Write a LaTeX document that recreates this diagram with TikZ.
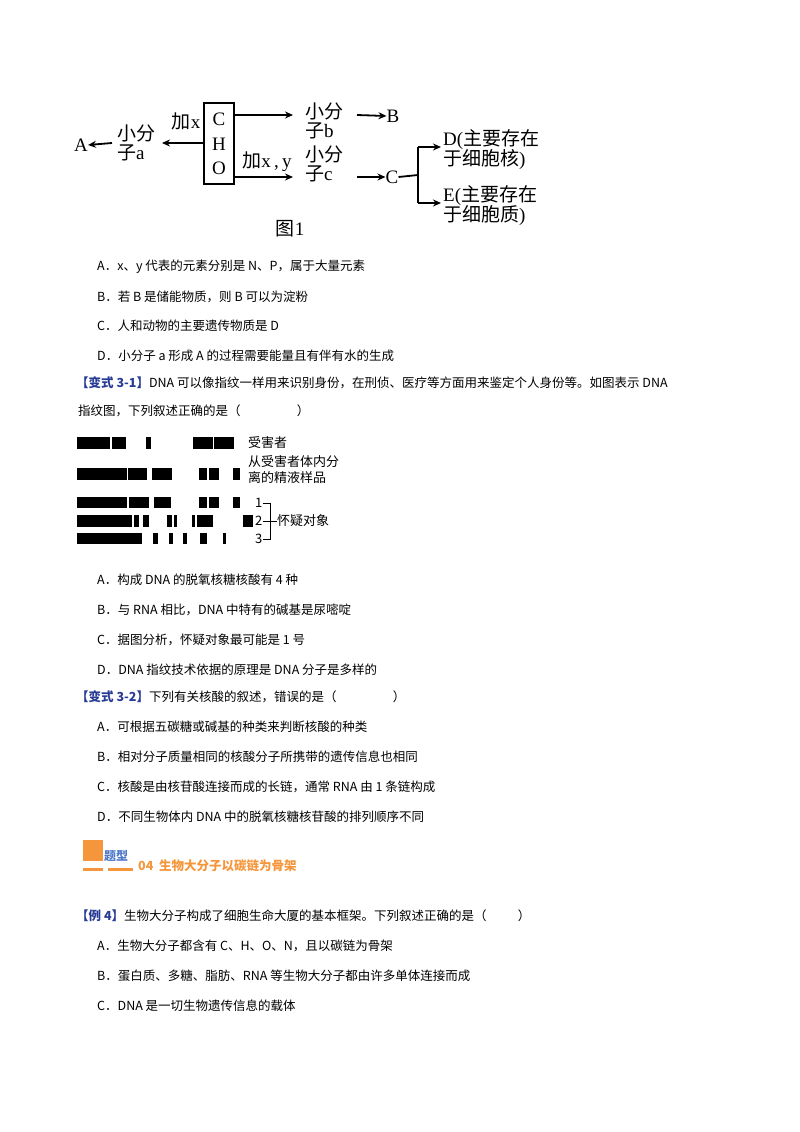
\documentclass[tikz,border=0pt]{standalone}
\usepackage{fontspec}
\setmainfont{Liberation Serif}
\newfontfamily\cjk{Noto Sans CJK SC}
\usetikzlibrary{arrows.meta}
\definecolor{qblue}{RGB}{40,60,150}
\definecolor{qorange}{RGB}{245,150,60}
\definecolor{qlblue}{RGB}{80,120,200}
\begin{document}
\begin{tikzpicture}[x=1pt,y=-1pt,
  dg/.style={inner sep=0pt,font=\fontsize{19}{21}\selectfont,align=left},
  arr/.style={-{Stealth[length=8pt,width=7pt]},line width=1.8pt},
  txt/.style={anchor=west,inner sep=0pt,font=\cjk\fontsize{12.5}{14}\selectfont},
  lab/.style={anchor=west,inner sep=0pt,font=\cjk\fontsize{13}{14}\selectfont,align=left},
  bar/.style={fill=black,draw=none}]
\useasboundingbox (0,0) rectangle (800,1132);
% ---- figure 1
\node[draw,line width=1.5pt,minimum width=30pt,minimum height=81pt,inner sep=0pt] (box) at (219,143.5) {};
\node[dg] (cC) at (219,119) {C};
\node[dg] (cH) at (219,144) {H};
\node[dg] (cO) at (219,168) {O};
\node[dg,anchor=west] (sb) at (305,121) {{\cjk 小分}\\[-2pt]{\cjk 子}b};
\node[dg,anchor=west] (sc) at (305,164) {{\cjk 小分}\\[-2pt]{\cjk 子}c};
\node[dg,anchor=west] (sa) at (117,143) {{\cjk 小分}\\[-2pt]{\cjk 子}a};
\node[dg] (B) at (393,116) {B};
\node[dg] (C) at (392,177) {C};
\node[dg] (A) at (81,145) {A};
\node[dg,anchor=west] (D) at (443,150) {D({\cjk 主要存在}\\[-1pt]{\cjk 于细胞核})};
\node[dg,anchor=west] (E) at (443,206) {E({\cjk 主要存在}\\[-1pt]{\cjk 于细胞质})};
\node[dg] (fig) at (290,229) {{\cjk 图}1};
\node[dg,anchor=south] (jx) at (186,130) {{\cjk 加}x};
\node[dg,anchor=south] (jxy) at (267,172) {{\cjk 加}x\,,\,y};
\coordinate (bt) at (234,115); \coordinate (bb) at (234,177); \coordinate (bl) at (204,143);
\coordinate (br) at (418,147); \coordinate (brl) at (418,203); \coordinate (bm) at (418,175);
\draw[arr] (bt) -- (293,115);
\draw[arr] (bb) -- (293,177);
\draw[arr] (bl) -- (162,143);
\draw[arr] (112,143) -- (A.east);
\draw[arr] (357,115) -- (B.west);
\draw[arr] (357,177) -- (C.west);
\draw[line width=1.8pt] (C.east) -- (bm);
\draw[line width=1.8pt] (br) -- (brl);
\draw[arr] (br) -- (441,147);
\draw[arr] (brl) -- (441,203);
% ---- options
\node[txt] (o1) at (97,267) {A．x、y 代表的元素分别是 N、P，属于大量元素};
\node[txt] (o2) at (97,297) {B．若 B 是储能物质，则 B 可以为淀粉};
\node[txt] (o3) at (97,326) {C．人和动物的主要遗传物质是 D};
\node[txt] (o4) at (97,356) {D．小分子 a 形成 A 的过程需要能量且有伴有水的生成};
\node[txt] (q31) at (76,383) {{\color{qblue}\bfseries【变式 3-1】}DNA 可以像指纹一样用来识别身份，在刑侦、医疗等方面用来鉴定个人身份等。如图表示 DNA};
\node[txt] (q31b) at (78,411) {指纹图，下列叙述正确的是（\hspace{4.5em}）};
% ---- DNA fingerprint
\foreach \a/\b in {77/110,112/126,146/151,193/213,214/234} \fill[bar] (\a,437) rectangle (\b,449);
\foreach \a/\b in {77/127,128/147,152/172,199/207,209/219,233/240} \fill[bar] (\a,468) rectangle (\b,480);
\foreach \a/\b in {77/127,129/149,154/171,199/207,209/219,233/240} \fill[bar] (\a,497) rectangle (\b,508);
\foreach \a/\b in {77/132,134/139,143/149,167/172,174/177,192/195,197/213,243/253} \fill[bar] (\a,515) rectangle (\b,527);
\foreach \a/\b in {77/142,153/158,169/173,183/187,200/207,223/226} \fill[bar] (\a,533) rectangle (\b,544);
\node[lab] (l1) at (248,443) {受害者};
\node[lab,font=\cjk\fontsize{13}{16}\selectfont] (l2) at (248,470) {从受害者体内分\\离的精液样品};
\node[lab] (n1) at (255,503) {1};
\node[lab] (n2) at (255,521) {2};
\node[lab] (n3) at (255,539) {3};
\node[lab] (l3) at (277,521) {怀疑对象};
\draw[line width=0.9pt] (n1.east) -- (270,503) -- (270,539) -- (n3.east);
\draw[line width=0.9pt] (n2.east) -- (l3.west);
% ---- options
\node[txt] (p1) at (97,580) {A．构成 DNA 的脱氧核糖核酸有 4 种};
\node[txt] (p2) at (97,610) {B．与 RNA 相比，DNA 中特有的碱基是尿嘧啶};
\node[txt] (p3) at (97,640) {C．据图分析，怀疑对象最可能是 1 号};
\node[txt] (p4) at (97,670) {D．DNA 指纹技术依据的原理是 DNA 分子是多样的};
\node[txt] (q32) at (76,697) {{\color{qblue}\bfseries【变式 3-2】}下列有关核酸的叙述，错误的是（\hspace{4.5em}）};
\node[txt] (r1) at (97,727) {A．可根据五碳糖或碱基的种类来判断核酸的种类};
\node[txt] (r2) at (97,757) {B．相对分子质量相同的核酸分子所携带的遗传信息也相同};
\node[txt] (r3) at (97,787) {C．核酸是由核苷酸连接而成的长链，通常 RNA 由 1 条链构成};
\node[txt] (r4) at (97,817) {D．不同生物体内 DNA 中的脱氧核糖核苷酸的排列顺序不同};
% ---- heading
\fill[qorange] (83,840) rectangle (103,861);
\fill[qorange] (83,868) rectangle (103,871);
\fill[qorange] (108,868) rectangle (133,871);
\node[txt,text=qlblue,font=\cjk\bfseries\fontsize{12}{13}\selectfont] (tx) at (104,856) {题型};
\node[txt,text=qorange,font=\cjk\bfseries\fontsize{12.5}{14}\selectfont] (hd) at (138,866) {04\ \ 生物大分子以碳链为骨架};
\node[txt] (q4) at (76,916) {{\color{qblue}\bfseries【例 4】}生物大分子构成了细胞生命大厦的基本框架。下列叙述正确的是（\hspace{2.5em}）};
\node[txt] (s1) at (97,946) {A．生物大分子都含有 C、H、O、N，且以碳链为骨架};
\node[txt] (s2) at (97,976) {B．蛋白质、多糖、脂肪、RNA 等生物大分子都由许多单体连接而成};
\node[txt] (s3) at (97,1006) {C．DNA 是一切生物遗传信息的载体};
\end{tikzpicture}
\end{document}
